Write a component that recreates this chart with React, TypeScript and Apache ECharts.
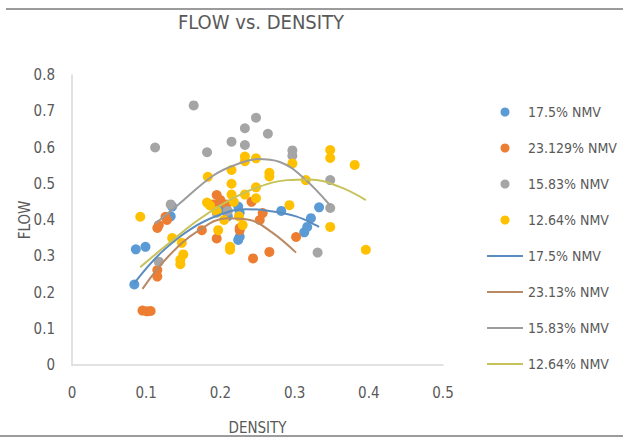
import React, { useEffect, useRef } from "react";
import * as echarts from "echarts";

const TITLE = "FLOW vs. DENSITY";
const X_NAME = "DENSITY";
const Y_NAME = "FLOW";

const scatterNames = ["17.5% NMV", "23.129% NMV", "15.83% NMV", "12.64% NMV"];
const trendNames = ["17.5% NMV", "23.13% NMV", "15.83% NMV", "12.64% NMV"];

const blueData: [number, number][] = [
  [0.084, 0.222], [0.086, 0.319], [0.099, 0.326], [0.133, 0.41], [0.135, 0.437],
  [0.224, 0.437], [0.226, 0.42], [0.224, 0.345], [0.226, 0.354], [0.282, 0.425],
  [0.313, 0.366], [0.317, 0.381], [0.322, 0.405], [0.333, 0.435], [0.2, 0.43], [0.21, 0.41],
];
const orangeData: [number, number][] = [
  [0.095, 0.15], [0.101, 0.148], [0.106, 0.149], [0.115, 0.244], [0.115, 0.262],
  [0.115, 0.378], [0.117, 0.386], [0.126, 0.409], [0.128, 0.4], [0.175, 0.372],
  [0.195, 0.349], [0.195, 0.469], [0.19, 0.443], [0.208, 0.443], [0.226, 0.372],
  [0.226, 0.378], [0.242, 0.45], [0.244, 0.294], [0.253, 0.4], [0.257, 0.419],
  [0.266, 0.312], [0.302, 0.353], [0.2, 0.455],
];
const grayData: [number, number][] = [
  [0.112, 0.6], [0.164, 0.716], [0.182, 0.587], [0.215, 0.616], [0.233, 0.653],
  [0.233, 0.607], [0.248, 0.682], [0.264, 0.638], [0.297, 0.592], [0.297, 0.577],
  [0.348, 0.51], [0.348, 0.433], [0.331, 0.31], [0.133, 0.443], [0.117, 0.285],
  [0.195, 0.42], [0.21, 0.425],
];
const yellowData: [number, number][] = [
  [0.092, 0.409], [0.135, 0.35], [0.146, 0.29], [0.146, 0.278], [0.148, 0.337],
  [0.15, 0.305], [0.183, 0.519], [0.182, 0.448], [0.186, 0.44], [0.197, 0.372],
  [0.195, 0.425], [0.213, 0.326], [0.213, 0.318], [0.215, 0.538], [0.215, 0.5],
  [0.215, 0.47], [0.218, 0.45], [0.233, 0.575], [0.233, 0.562], [0.233, 0.47],
  [0.23, 0.386], [0.248, 0.57], [0.248, 0.49], [0.248, 0.46], [0.266, 0.53],
  [0.266, 0.52], [0.297, 0.556], [0.293, 0.441], [0.315, 0.51], [0.348, 0.593],
  [0.348, 0.571], [0.348, 0.381], [0.381, 0.552], [0.396, 0.318], [0.205, 0.4],
  [0.225, 0.41],
];

// trend lines
const blueTrend: [number, number][] = [
  [0.084, 0.226], [0.12, 0.31], [0.16, 0.375], [0.2, 0.415], [0.235, 0.43],
  [0.266, 0.425], [0.302, 0.41], [0.333, 0.381],
];
const orangeTrend: [number, number][] = [
  [0.095, 0.21], [0.13, 0.3], [0.17, 0.37], [0.21, 0.405], [0.24, 0.4],
  [0.27, 0.365], [0.302, 0.31],
];
const grayTrend: [number, number][] = [
  [0.112, 0.39], [0.142, 0.44], [0.19, 0.522], [0.22, 0.552], [0.25, 0.568],
  [0.28, 0.56], [0.31, 0.52], [0.348, 0.44],
];
const yellowTrend: [number, number][] = [
  [0.092, 0.27], [0.13, 0.335], [0.17, 0.4], [0.21, 0.452], [0.25, 0.49],
  [0.29, 0.51], [0.32, 0.512], [0.36, 0.492], [0.396, 0.455],
];

const xTicks = { min: 0, max: 0.5, interval: 0.1 };
const yTicks = { min: 0, max: 0.8, interval: 0.1 };

const scatterColors = ["#5B9BD5", "#ED7D31", "#A5A5A5", "#FFC000"];
const trendColors = ["#5b8cc0", "#b88a66", "#9c9c9c", "#c8c25a"];

const FONT = "'Liberation Sans Narrow', 'DejaVu Sans Condensed', 'Open Sans', sans-serif";
const TXT = "#595959";
const LINE_ICON = "path://M0 0H36V2H0Z";

export default function App() {
  const ref = useRef<HTMLDivElement>(null);
  useEffect(() => {
    if (!ref.current) return;
    const chart = echarts.init(ref.current, undefined, { renderer: "svg" });
    const scatters = [blueData, orangeData, grayData, yellowData];
    const trends = [blueTrend, orangeTrend, grayTrend, yellowTrend];
    const series: any[] = [];
    scatters.forEach((d, i) => {
      series.push({
        type: "scatter",
        name: scatterNames[i],
        data: d,
        symbol: "circle",
        symbolSize: 10,
        itemStyle: { color: scatterColors[i], opacity: 1 },
      });
    });
    trends.forEach((d, i) => {
      series.push({
        type: "line",
        name: "line:" + trendNames[i],
        data: d,
        smooth: 0.4,
        symbol: "none",
        showSymbol: false,
        lineStyle: { color: trendColors[i], width: 2 },
        itemStyle: { color: trendColors[i] },
        z: 3,
      });
    });
    chart.setOption({
      animation: false,
      backgroundColor: "#ffffff",
      textStyle: { fontFamily: FONT },
      grid: { left: 72, right: 180, top: 75, bottom: 80, containLabel: false },
      xAxis: {
        type: "value",
        min: xTicks.min,
        max: xTicks.max,
        interval: xTicks.interval,
        name: X_NAME,
        nameLocation: "middle",
        nameGap: 55,
        nameMoveOverlap: false,
        nameTextStyle: { color: TXT, fontSize: 15, fontFamily: FONT },
        axisLine: { show: true, lineStyle: { color: "#d9d9d9", width: 1.5 } },
        axisTick: { show: false },
        splitLine: { show: false },
        axisLabel: { color: TXT, fontSize: 15, margin: 20, fontFamily: FONT },
      },
      yAxis: {
        type: "value",
        min: yTicks.min,
        max: yTicks.max,
        interval: yTicks.interval,
        name: Y_NAME,
        nameLocation: "middle",
        nameGap: 40,
        nameMoveOverlap: false,
        nameTextStyle: { color: TXT, fontSize: 15, fontFamily: FONT },
        axisLine: { show: true, lineStyle: { color: "#d9d9d9", width: 1.5 } },
        axisTick: { show: false },
        splitLine: { show: false },
        axisLabel: { color: TXT, fontSize: 15, margin: 17, fontFamily: FONT },
      },
      legend: {
        orient: "vertical",
        left: 482,
        top: 100,
        itemWidth: 36,
        itemHeight: 9,
        itemGap: 22,
        data: [
          ...scatterNames.map((n) => ({ name: n, icon: "circle" })),
          ...trendNames.map((n) => ({ name: "line:" + n, icon: LINE_ICON })),
        ],
        formatter: (name: string) => name.replace("line:", ""),
        textStyle: { color: TXT, fontSize: 14, fontFamily: FONT, padding: [0, 0, 0, 0] },
      },
      graphic: [
        {
          type: "text",
          x: 261,
          y: 12,
          style: {
            text: TITLE,
            fill: TXT,
            font: "20px " + FONT,
            textAlign: "center",
            textVerticalAlign: "top",
          },
        },
        {
          type: "line",
          shape: { x1: 6, y1: 9, x2: 623, y2: 9 },
          style: { stroke: "#7a7a7a", lineWidth: 1.5 },
        },
        {
          type: "line",
          shape: { x1: 0, y1: 436, x2: 623, y2: 436 },
          style: { stroke: "#7a7a7a", lineWidth: 1.5 },
        },
      ],
      series,
    });
    return () => chart.dispose();
  }, []);
  return (
    <div
      ref={ref}
      style={{ position: "absolute", left: 0, top: 0, width: 623, height: 445 }}
    />
  );
}
